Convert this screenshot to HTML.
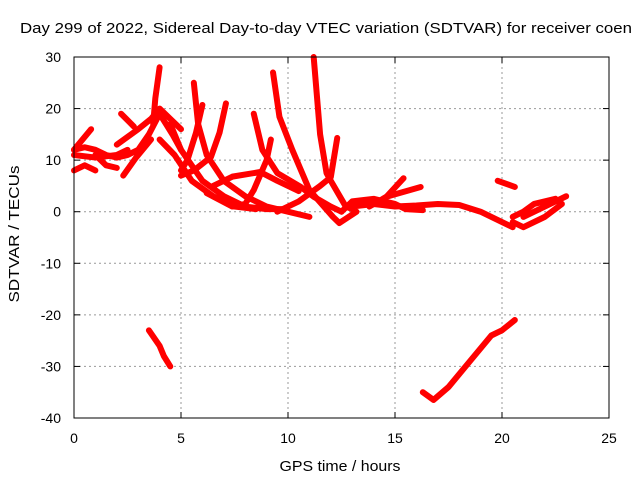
<!DOCTYPE html>
<html><head><meta charset="utf-8"><style>
body{margin:0;background:#fff}
svg{display:block;font-family:"Liberation Sans",sans-serif}
</style></head><body>
<svg id="chart" width="640" height="480" viewBox="0 0 640 480">
<text x="20" y="33" font-size="15" textLength="612" lengthAdjust="spacingAndGlyphs" fill="#000">Day 299 of 2022, Sidereal Day-to-day VTEC variation (SDTVAR) for receiver coen</text>
<g id="grid"></g>
<g id="series"></g>
<rect x="74" y="57" width="535" height="361" fill="none" stroke="#000" stroke-width="1"/>
<g id="axes"></g>
<text x="340" y="471" font-size="15" textLength="121" lengthAdjust="spacingAndGlyphs" text-anchor="middle">GPS time / hours</text>
<text x="19" y="234" font-size="15" textLength="137" lengthAdjust="spacingAndGlyphs" text-anchor="middle" transform="rotate(-90 19 234)">SDTVAR / TECUs</text>
</svg>
<script>
const xTicks=[0,5,10,15,20,25];
const yTicks=[30,20,10,0,-10,-20,-30,-40];
const s1=[[0,12],[0.8,16]];
const s2=[[0,8],[0.5,9],[1,8]];
const s3=[[1,11],[1.5,9],[2,8.5]];
const s4=[[2.2,19],[2.8,16.5]];
const s5=[[2.3,7],[2.9,10.5],[3.6,14]];
const s6=[[2,13],[3,16],[3.6,18],[4,20],[4.5,18],[5,16]];
const s7=[[0,11],[1,10.5],[2,11],[2.5,12]];
const s8=[[0,12],[0.5,12.5],[1,12],[1.5,11],[2,10.5],[2.5,11],[3,12],[3.5,15],[4,19],[4.3,17],[4.6,15],[5,12]];
const s9=[[3.7,17],[3.8,22],[3.9,25],[4,28]];
const s10=[[4.5,17],[5,12],[5.5,9],[6,6],[7,3],[8,1],[9,0.5],[9.8,0.5]];
const s11=[[4,14],[4.7,11],[5.5,6],[6.5,3],[7.5,1],[8.5,0.5]];
const s12=[[5.6,25],[5.8,17],[6.2,11],[7,6],[8,3],[9,1],[10,0],[11,-1]];
const s13=[[6,20.7],[5.7,15.3],[5.3,10],[5,8]];
const s14=[[7.1,21],[6.8,15.3],[6.4,10.6],[5.6,8],[5,7]];
const s15=[[6.2,3.6],[7.4,1],[8,1.5],[8.4,4.2],[9,10],[9.2,14]];
const s16=[[6.5,5],[7.4,6.8],[8.7,7.7],[9.5,6],[10.5,4]];
const s17=[[8.4,19],[8.8,12],[9.5,7.5],[10.6,4.8],[11.2,2.9],[12,1],[12.5,0]];
const s18=[[9.3,27],[9.6,18.4],[10.2,12],[11,4.2],[12.1,-1],[12.4,-2.2],[13.2,0]];
const s19=[[11.2,30],[11.5,15],[11.8,7.5],[12,6],[12.7,1],[13,0.5]];
const s20=[[12.3,14.3],[12,6.7],[11.5,5],[10.5,2],[9.5,0]];
const s21=[[13,1],[14,1.5],[15,1],[16,1.2],[17,1.5],[18,1.3],[19,0],[20,-2],[20.5,-3]];
const s22=[[12.5,0],[13,2],[14,2.5],[15,1.5],[15.5,0.5],[16.3,0.3]];
const s23=[[13.8,1],[14.6,2.9],[15.4,6.5]];
const s24=[[14.6,2.9],[16.2,4.8]];
const s25=[[19.8,6],[20.6,4.8]];
const s26=[[20.5,-2],[21,-3],[22,-1],[22.8,1.5],[22.5,2.5],[21.5,1.5],[21,0],[20.5,-1]];
const s27=[[21,-1],[22,1],[23,3]];
const s28=[[3.5,-23],[4,-26],[4.2,-28],[4.5,-30]];
const s29=[[16.3,-35],[16.8,-36.5],[17.5,-34],[18.5,-29],[19.5,-24],[20,-23],[20.6,-21]];
const allSeries=[s1,s2,s3,s4,s5,s6,s7,s8,s9,s10,s11,s12,s13,s14,s15,s16,s17,s18,s19,s20,s21,s22,s23,s24,s25,s26,s27,s28,s29];

const NS="http://www.w3.org/2000/svg";
function xs(h){return 74+(h-0)/25*535;}
function ys(v){return 57+(30-v)/70*361;}
const grid=document.getElementById('grid'),axes=document.getElementById('axes'),ser=document.getElementById('series');
function mk(tag,attrs,parent){const e=document.createElementNS(NS,tag);for(const k in attrs)e.setAttribute(k,attrs[k]);parent.appendChild(e);return e;}
xTicks.forEach(t=>{
  const x=xs(t);
  if(t>0&&t<25){const g=mk('line',{x1:x,y1:57,x2:x,y2:418,stroke:'#999','stroke-dasharray':'2,3'},grid);
  
  }
  const a=mk('line',{x1:x,y1:418,x2:x,y2:412,stroke:'#000'},axes);
  
  
  const b=mk('line',{x1:x,y1:57,x2:x,y2:63,stroke:'#000'},axes);
  
  
  const tx=mk('text',{x:x,y:443,'font-size':14,'text-anchor':'middle'},axes);
  tx.textContent=t;
  
  
});
yTicks.forEach(t=>{
  const y=ys(t);
  if(t<30&&t>-40){const g=mk('line',{x1:74,y1:y,x2:609,y2:y,stroke:'#999','stroke-dasharray':'2,3'},grid);
  
  }
  const a=mk('line',{x1:74,y1:y,x2:80,y2:y,stroke:'#000'},axes);
  
  
  const b=mk('line',{x1:609,y1:y,x2:603,y2:y,stroke:'#000'},axes);
  
  
  const tx=mk('text',{x:61,y:y+5,'font-size':14,'text-anchor':'end'},axes);
  tx.textContent=t;
  
  
});
allSeries.forEach((s,i)=>{
  const p=mk('polyline',{points:s.map(d=>xs(d[0])+','+ys(d[1])).join(' '),fill:'none',stroke:'#f00','stroke-width':6,'stroke-linejoin':'round','stroke-linecap':'round'},ser);
  
  
});
</script>
</body></html>
